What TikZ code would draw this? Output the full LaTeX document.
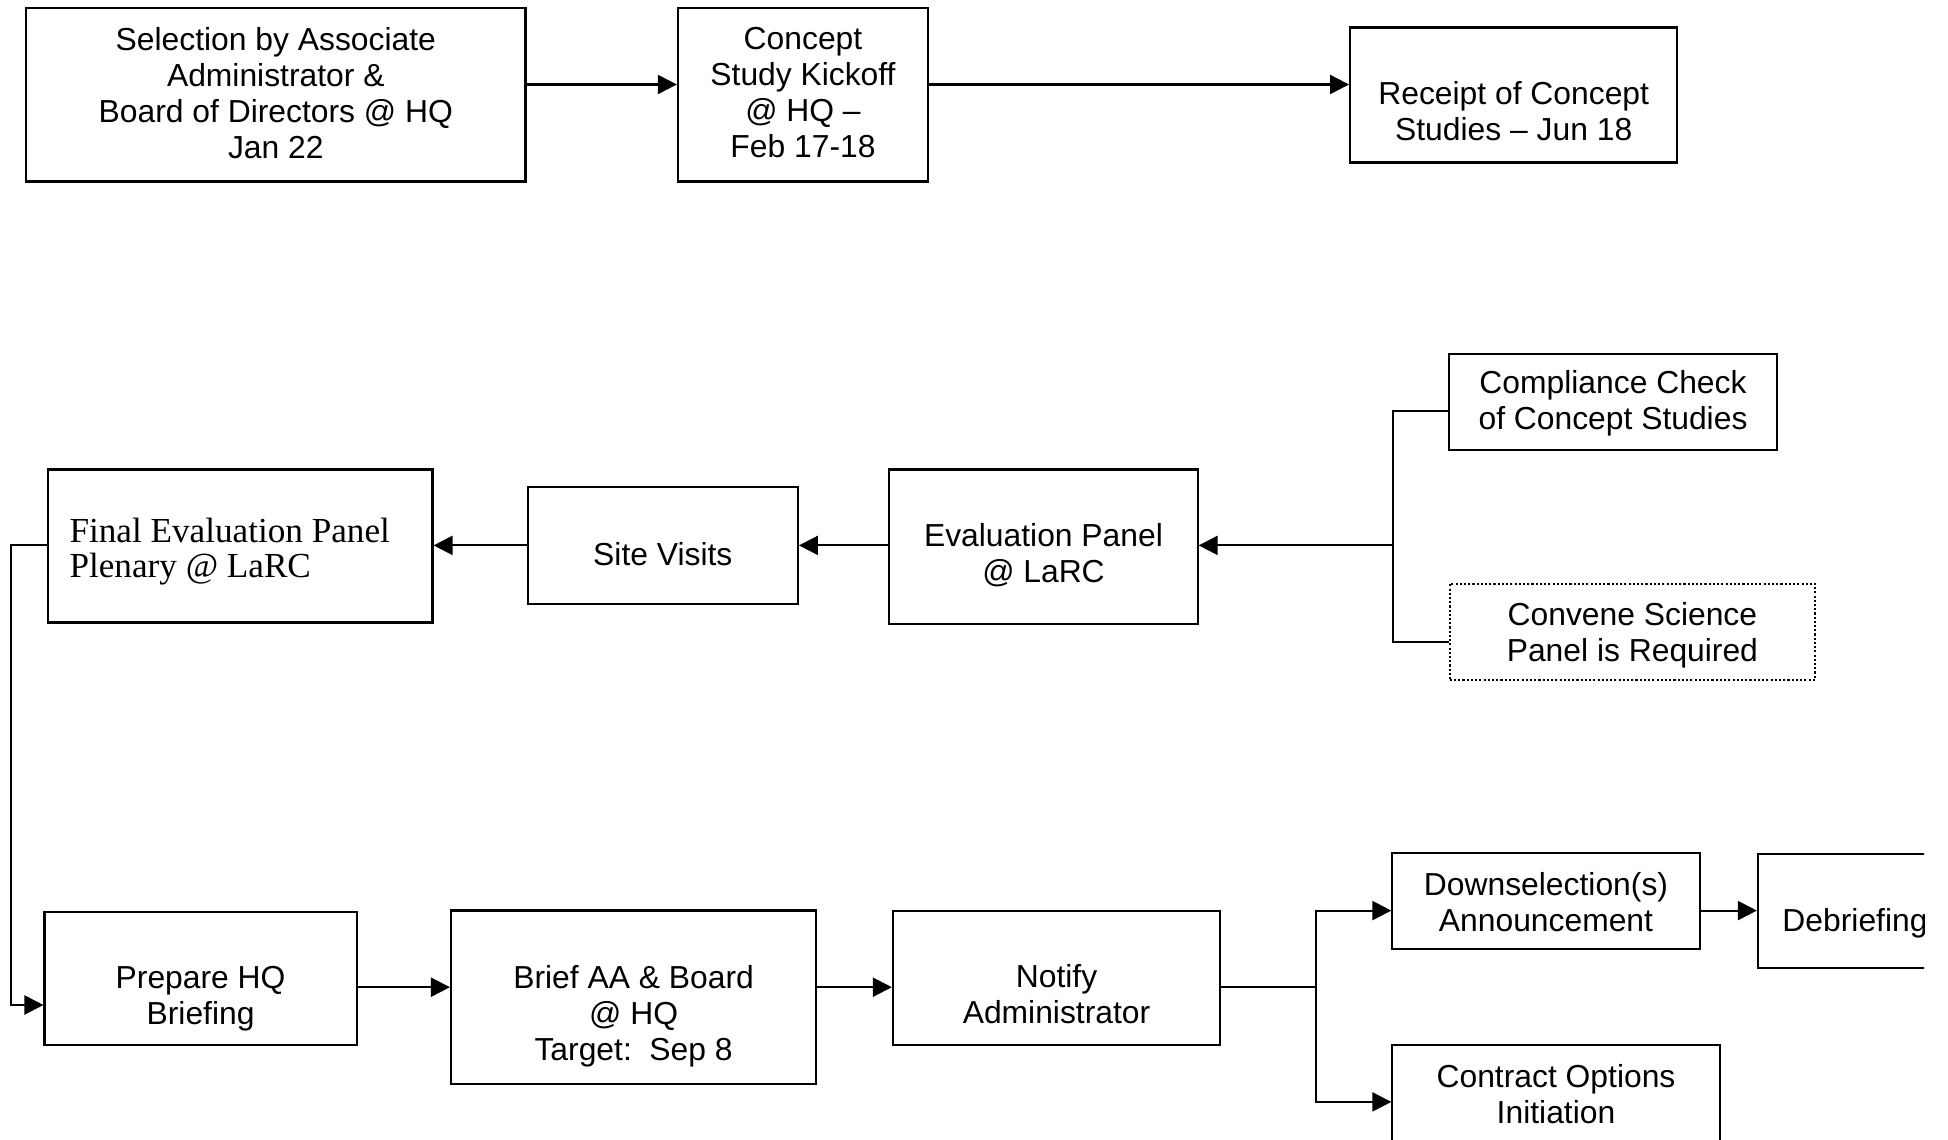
\documentclass[tikz,border=0pt]{standalone}
\usepackage{fontspec}
\setmainfont{Liberation Sans}
\newfontfamily\serifface{Liberation Serif}
\usetikzlibrary{arrows.meta,calc}
\begin{document}
\begin{tikzpicture}[x=0.01cm,y=-0.01cm,
  box/.style={draw, line width=0.6pt, rectangle, inner sep=0pt},
  dotbox/.style={draw, line width=0.6pt, rectangle, inner sep=0pt, dash pattern=on 0.6pt off 0.6pt},
  txt/.style={align=center, font=\fontsize{9.05pt}{10.24pt}\selectfont, inner sep=0pt},
  serift/.style={align=left, anchor=west, inner sep=0pt, font=\serifface\fontsize{10pt}{9.9pt}\selectfont},
  arr/.style={line width=0.6pt, -{Triangle[length=5.4pt,width=5.4pt]}},
  ln/.style={line width=0.6pt}]
\useasboundingbox (0,0) rectangle (1948,1140);
\clip (0,0) rectangle (1924,1140);

% top row
\node[box, minimum width=4.99cm, minimum height=1.73cm] (sel) at (275.8,95) {};
\node[txt] (selT) at ($(sel.center)+(0,-2)$) {Selection by Associate\\Administrator \&\\Board of Directors @ HQ\\Jan 22};
\node[box, minimum width=2.50cm, minimum height=1.73cm] (kick) at (803,95) {};
\node[txt] (kickT) at ($(kick.center)+(0,-2)$) {Concept\\Study Kickoff\\@ HQ –\\Feb 17-18};
\node[box, minimum width=3.27cm, minimum height=1.35cm] (rec) at (1513.7,95) {};
\node[txt] (recT) at ($(rec.center)+(0,16)$) {Receipt of Concept\\Studies – Jun 18};

% middle row
\node[box, minimum width=3.27cm, minimum height=0.96cm] (comp) at (1613,402) {};
\node[txt] (compT) at ($(comp.center)+(0,1)$) {Compliance Check\\of Concept Studies};
\node[dotbox, minimum width=3.65cm, minimum height=0.96cm] (conv) at (1632.4,631.7) {};
\node[txt] (convT) at ($(conv.center)+(0,4)$) {Convene Science\\Panel is Required};
\node[box, minimum width=3.08cm, minimum height=1.54cm] (eval) at (1043.5,546.6) {};
\node[txt] (evalT) at ($(eval.center)+(0,9)$) {Evaluation Panel\\@ LaRC};
\node[box, minimum width=2.70cm, minimum height=1.17cm] (site) at (662.8,545.4) {};
\node[txt] (siteT) at ($(site.center)+(0,9)$) {Site Visits};
\node[box, minimum width=3.84cm, minimum height=1.53cm] (fin) at (240.4,546) {};
\node[serift] (finT) at ($(fin.west)+(21.6,5.5)$) {Final Evaluation Panel\\Plenary @ LaRC};

% bottom row
\node[box, minimum width=3.12cm, minimum height=1.33cm] (prep) at (200.6,978.3) {};
\node[txt] (prepT) at ($(prep.center)+(0,20)$) {Prepare HQ\\Briefing};
\node[box, minimum width=3.65cm, minimum height=1.73cm] (brief) at (633.6,997) {};
\node[txt] (briefT) at ($(brief.center)+(0,19)$) {Brief AA \& Board\\@ HQ\\Target:\ \ Sep 8};
\node[box, minimum width=3.27cm, minimum height=1.34cm] (notify) at (1056.5,977.7) {};
\node[txt] (notifyT) at ($(notify.center)+(0,16)$) {Notify\\Administrator};
\node[box, minimum width=3.07cm, minimum height=0.96cm] (down) at (1546,901.3) {};
\node[txt] (downT) at ($(down.center)+(0,1)$) {Downselection(s)\\Announcement};
\node[box, minimum width=1.94cm, minimum height=1.14cm] (debr) at (1855,910.7) {};
\node[txt] (debrT) at ($(debr.center)+(0,13)$) {Debriefing};
\node[box, minimum width=3.27cm, minimum height=1.45cm] (contr) at (1556,1117.4) {};
\node[txt] (contrT) at ($(contr.north)+(0,50)$) {Contract Options\\Initiation};

% helper coordinates
\coordinate (r1) at (0,84.5);
\coordinate (r2a) at (0,411.2);
\coordinate (r2c) at (0,642.3);
\coordinate (r2) at (0,545.4);
\coordinate (r3a) at (0,1005);
\coordinate (r3) at (0,987.2);
\coordinate (r4) at (0,910.6);
\coordinate (r5) at (0,1101.9);
\coordinate (bx) at (1392.6,0);
\coordinate (lx) at (11,0);
\coordinate (bx2) at (1315.6,0);

% connectors
\draw[arr] (sel.east |- r1) -- (kick.west |- r1);
\draw[arr] (kick.east |- r1) -- (rec.west |- r1);

\draw[ln] (comp.west |- r2a) -- (bx |- r2a) -- (bx |- r2c) -- (conv.west |- r2c);
\draw[arr] (bx |- r2) -- (eval.east |- r2);
\draw[arr] (eval.west |- r2) -- (site.east |- r2);
\draw[arr] (site.west |- r2) -- (fin.east |- r2);
\draw[arr] (fin.west |- r2) -- (lx |- r2) -- (lx |- r3a) -- (prep.west |- r3a);

\draw[arr] (prep.east |- r3) -- (brief.west |- r3);
\draw[arr] (brief.east |- r3) -- (notify.west |- r3);
\draw[ln] (notify.east |- r3) -- (bx2 |- r3);
\draw[arr] (bx2 |- r3) |- (down.west |- r4);
\draw[arr] (bx2 |- r3) |- (contr.west |- r5);
\draw[arr] (down.east |- r4) -- (debr.west |- r4);
\end{tikzpicture}
\end{document}
